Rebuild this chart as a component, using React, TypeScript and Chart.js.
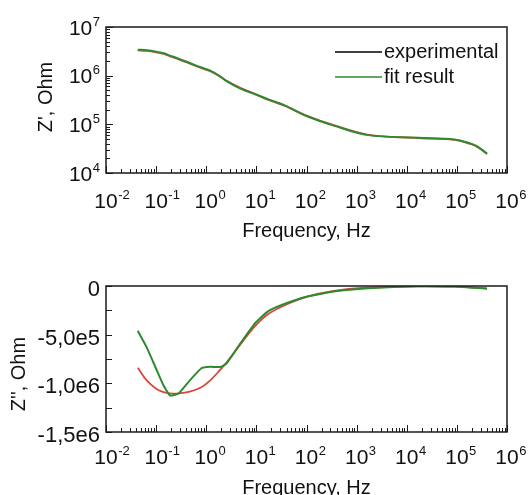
import React, { useEffect, useRef } from "react";
import { Chart, registerables } from "chart.js";

Chart.register(...registerables);

const FONT_FAMILY = '"Liberation Sans", Arial, Helvetica, sans-serif';

// ---------------- data ----------------
const frequencyHz = [
  0.043, 0.065, 0.1, 0.14, 0.19, 0.28, 0.47, 0.8, 1.2, 1.9, 2.5, 4.8, 9.5, 17, 36, 100, 350, 1700, 17000,
  90000, 180000, 260000, 400000,
];
const zRealExperimental = [
  3.3e6, 3.22e6, 3.02e6, 2.8e6, 2.5e6, 2.17e6, 1.77e6, 1.43e6, 1.24e6, 9.5e5, 7.9e5, 5.6e5, 4.2e5, 3.2e5,
  2.42e5, 1.52e5, 9.6e4, 6.1e4, 5.2e4, 4.8e4, 4.0e4, 3.4e4, 2.45e4,
];
const zRealFit = [
  3.42e6, 3.33e6, 3.12e6, 2.88e6, 2.58e6, 2.24e6, 1.82e6, 1.47e6, 1.27e6, 9.7e5, 7.8e5, 5.4e5, 4.15e5, 3.28e5,
  2.48e5, 1.48e5, 9.4e4, 6.0e4, 5.3e4, 4.9e4, 4.1e4, 3.5e4, 2.5e4,
];
const zImagExperimental = [
  -8.4e5, -9.7e5, -1.055e6, -1.09e6, -1.103e6, -1.103e6, -1.085e6, -1.04e6, -9.7e5, -8.6e5, -7.9e5, -6.0e5,
  -4.1e5, -2.9e5, -2.0e5, -1.12e5, -5.0e4, -1.8e4, -3e3, -6e3, -1.3e4, -1.9e4, -2.5e4,
];
const zImagFit = [
  -4.6e5, -6.3e5, -8.5e5, -1.02e6, -1.125e6, -1.105e6, -9.7e5, -8.45e5, -8.3e5, -8.32e5, -8.0e5, -5.9e5,
  -3.8e5, -2.6e5, -1.85e5, -1.1e5, -5.6e4, -2.3e4, -2e3, -6e3, -1.6e4, -2.1e4, -2.7e4,
];
const seriesNames = ["experimental", "fit result"];
const frequencyTickExponents = [-2, -1, 0, 1, 2, 3, 4, 5, 6];
const zRealTickExponents = [4, 5, 6, 7];
const zImagTickValues = [0, -500000, -1000000, -1500000];
const zImagTickLabels = ["0", "-5,0e5", "-1,0e6", "-1,5e6"];
const zImagMinorTickValues = [-250000, -750000, -1250000];
const frequencyTitle = "Frequency, Hz";
const zRealTitle = "Z', Ohm";
const zImagTitle = "Z'', Ohm";

const COLORS = {
  experimental: "#d9463c",
  fit: "#2f8a2f",
  legendExperimental: "#000000",
  axis: "#1a1a1a",
  text: "#111111",
};

type DecorConfig = {
  yKind: "log" | "linear";
  yTitle: string;
  yTitleX: number;
  yTitleDy: number;
  xLabelBaseline: number;
  xTitleOffset: number;
  legend: boolean;
};

function makeDecorPlugin(cfg: DecorConfig) {
  return {
    id: "decor",
    afterDraw(chart: any) {
      const { ctx, chartArea: a, scales } = chart;
      const xs = scales.x;
      const ys = scales.y;
      ctx.save();
      ctx.strokeStyle = COLORS.axis;
      ctx.fillStyle = COLORS.text;

      // inward tick marks
      ctx.lineWidth = 1;
      ctx.beginPath();
      const e0 = frequencyTickExponents[0];
      const e1 = frequencyTickExponents[frequencyTickExponents.length - 1];
      for (let e = e0; e <= e1; e++) {
        for (let m = 1; m <= 9; m++) {
          if (e === e1 && m > 1) break;
          const px = Math.round(xs.getPixelForValue(m * Math.pow(10, e))) + 0.5;
          const len = m === 1 ? 7 : 4;
          ctx.moveTo(px, a.bottom);
          ctx.lineTo(px, a.bottom - len);
        }
      }
      if (cfg.yKind === "log") {
        const f0 = zRealTickExponents[0];
        const f1 = zRealTickExponents[zRealTickExponents.length - 1];
        for (let e = f0; e <= f1; e++) {
          for (let m = 1; m <= 9; m++) {
            if (e === f1 && m > 1) break;
            const py = Math.round(ys.getPixelForValue(m * Math.pow(10, e))) + 0.5;
            const len = m === 1 ? 7 : 4;
            ctx.moveTo(a.left, py);
            ctx.lineTo(a.left + len, py);
          }
        }
      } else {
        for (const v of [...zImagTickValues, ...zImagMinorTickValues]) {
          const py = Math.round(ys.getPixelForValue(v)) + 0.5;
          ctx.moveTo(a.left, py);
          ctx.lineTo(a.left + 6, py);
        }
      }
      ctx.stroke();

      // frame
      ctx.lineWidth = 1.5;
      ctx.strokeRect(a.left, a.top, a.right - a.left, a.bottom - a.top);

      // x tick labels (powers of ten)
      const base = a.bottom + cfg.xLabelBaseline;
      ctx.textBaseline = "alphabetic";
      for (const e of frequencyTickExponents) {
        const px = xs.getPixelForValue(Math.pow(10, e));
        ctx.font = `21px ${FONT_FAMILY}`;
        ctx.textAlign = "center";
        ctx.fillText("10", px, base);
        const w = ctx.measureText("10").width;
        ctx.font = `13px ${FONT_FAMILY}`;
        ctx.textAlign = "left";
        ctx.fillText(String(e), px + w / 2 + 0.5, base - 9);
      }

      // y tick labels for log axis
      if (cfg.yKind === "log") {
        for (const e of zRealTickExponents) {
          const py = ys.getPixelForValue(Math.pow(10, e));
          const yb = py + 7.5;
          ctx.font = `13px ${FONT_FAMILY}`;
          ctx.textAlign = "right";
          const sup = String(e);
          const ws = ctx.measureText(sup).width;
          ctx.fillText(sup, a.left - 6, yb - 9);
          ctx.font = `21px ${FONT_FAMILY}`;
          ctx.fillText("10", a.left - 6 - ws - 0.5, yb);
        }
      }

      // axis titles
      ctx.font = `20px ${FONT_FAMILY}`;
      ctx.textAlign = "center";
      ctx.textBaseline = "middle";
      ctx.fillText(frequencyTitle, (a.left + a.right) / 2, a.bottom + cfg.xTitleOffset);
      ctx.save();
      ctx.translate(cfg.yTitleX, (a.top + a.bottom) / 2 + cfg.yTitleDy);
      ctx.rotate(-Math.PI / 2);
      ctx.fillText(cfg.yTitle, 0, 0);
      ctx.restore();

      // legend
      if (cfg.legend) {
        const ds = chart.data.datasets;
        ctx.font = `20px ${FONT_FAMILY}`;
        ctx.textAlign = "left";
        ctx.textBaseline = "middle";
        ds.forEach((d: any, i: number) => {
          const y = a.top + 25 + i * 25;
          ctx.strokeStyle = d.legendColor;
          ctx.lineWidth = 1.5;
          ctx.beginPath();
          ctx.moveTo(a.right - 172, y);
          ctx.lineTo(a.right - 125, y);
          ctx.stroke();
          ctx.fillStyle = COLORS.text;
          ctx.fillText(d.label, a.right - 123, y);
        });
      }
      ctx.restore();
    },
  };
}

function buildDatasets(exp: number[], fit: number[], tensionExp: number, tensionFit: number) {
  return [
    {
      label: seriesNames[0],
      data: frequencyHz.map((f, i) => ({ x: f, y: exp[i] })),
      borderColor: COLORS.experimental,
      legendColor: COLORS.legendExperimental,
      borderWidth: 1.8,
      pointRadius: 0,
      tension: tensionExp,
      order: 1,
    },
    {
      label: seriesNames[1],
      data: frequencyHz.map((f, i) => ({ x: f, y: fit[i] })),
      borderColor: COLORS.fit,
      legendColor: COLORS.fit,
      borderWidth: 2,
      pointRadius: 0,
      tension: tensionFit,
      order: 0,
    },
  ];
}

const hiddenAxisBase = {
  grid: { display: false, drawTicks: false },
  border: { display: false },
};

function TopChart() {
  const ref = useRef<HTMLCanvasElement | null>(null);
  useEffect(() => {
    if (!ref.current) return;
    const chart = new Chart(ref.current, {
      type: "line",
      data: { datasets: buildDatasets(zRealExperimental, zRealFit, 0.35, 0.35) as any },
      options: {
        animation: false,
        responsive: false,
        devicePixelRatio: 1,
        layout: { padding: { left: 34, right: 24, top: 27, bottom: 0 } },
        plugins: { legend: { display: false }, tooltip: { enabled: false } },
        scales: {
          x: {
            type: "logarithmic",
            min: 0.01,
            max: 1e6,
            ...hiddenAxisBase,
            ticks: { display: false },
            afterFit: (s: any) => {
              s.height = 77;
            },
          },
          y: {
            type: "logarithmic",
            min: 1e4,
            max: 1e7,
            ...hiddenAxisBase,
            ticks: { display: false },
            afterFit: (s: any) => {
              s.width = 72;
            },
          },
        },
      } as any,
      plugins: [
        makeDecorPlugin({
          yKind: "log",
          yTitle: zRealTitle,
          yTitleX: 46,
          yTitleDy: -3,
          xLabelBaseline: 35,
          xTitleOffset: 58,
          legend: true,
        }),
      ],
    });
    return () => chart.destroy();
  }, []);
  return (
    <canvas
      ref={ref}
      width={531}
      height={250}
      style={{ position: "absolute", left: 0, top: 0, width: 531, height: 250 }}
    />
  );
}

function BottomChart() {
  const ref = useRef<HTMLCanvasElement | null>(null);
  useEffect(() => {
    if (!ref.current) return;
    const chart = new Chart(ref.current, {
      type: "line",
      data: { datasets: buildDatasets(zImagExperimental, zImagFit, 0.35, 0.12) as any },
      options: {
        animation: false,
        responsive: false,
        devicePixelRatio: 1,
        layout: { padding: { left: 0, right: 24, top: 36, bottom: 0 } },
        plugins: { legend: { display: false }, tooltip: { enabled: false } },
        scales: {
          x: {
            type: "logarithmic",
            min: 0.01,
            max: 1e6,
            ...hiddenAxisBase,
            ticks: { display: false },
            afterFit: (s: any) => {
              s.height = 63;
            },
          },
          y: {
            type: "linear",
            min: -1500000,
            max: 0,
            ...hiddenAxisBase,
            afterBuildTicks: (s: any) => {
              s.ticks = zImagTickValues.map((v) => ({ value: v }));
            },
            ticks: {
              color: COLORS.text,
              font: { family: FONT_FAMILY, size: 22 },
              padding: 6,
              labelOffset: 4,
              autoSkip: false,
              callback: (v: any) => {
                const idx = zImagTickValues.indexOf(Number(v));
                return idx >= 0 ? zImagTickLabels[idx] : "";
              },
            },
            afterFit: (s: any) => {
              s.width = 106;
            },
          },
        },
      } as any,
      plugins: [
        makeDecorPlugin({
          yKind: "linear",
          yTitle: zImagTitle,
          yTitleX: 19,
          yTitleDy: 15,
          xLabelBaseline: 32,
          xTitleOffset: 56,
          legend: false,
        }),
      ],
    });
    return () => chart.destroy();
  }, []);
  return (
    <canvas
      ref={ref}
      width={531}
      height={245}
      style={{ position: "absolute", left: 0, top: 250, width: 531, height: 245 }}
    />
  );
}

export default function App() {
  return (
    <div
      style={{
        position: "absolute",
        left: 0,
        top: 0,
        width: 531,
        height: 495,
        background: "#ffffff",
        overflow: "hidden",
      }}
    >
      <TopChart />
      <BottomChart />
    </div>
  );
}
